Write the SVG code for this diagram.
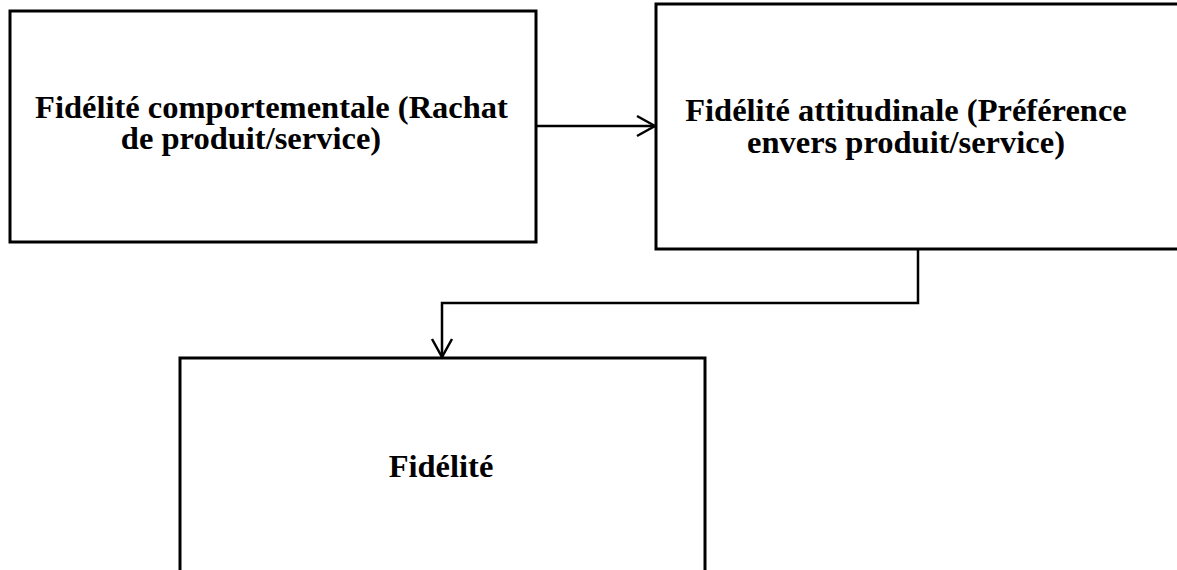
<svg xmlns="http://www.w3.org/2000/svg" width="1177" height="570" viewBox="0 0 1177 570">
<defs>
<style>
.box{fill:#fff;stroke:#000;stroke-width:3}
.t{font-family:"Liberation Serif","Times New Roman",serif;font-weight:bold;font-size:32.5px;fill:#000;text-anchor:middle}
.c{fill:none;stroke:#000;stroke-width:2.5}
</style>
<marker id="ah" markerWidth="22" markerHeight="24" refX="20" refY="12" orient="auto" markerUnits="userSpaceOnUse">
<path d="M2,2 L20,12 L2,22" fill="none" stroke="#000" stroke-width="2.5"/>
</marker>
</defs>
<rect width="1177" height="570" fill="#fff"/>
<g id="node-comportementale">
<rect class="box" x="10" y="11" width="526" height="231"/>
<text class="t" x="271.5" y="118">Fidélité comportementale (Rachat</text>
<text class="t" x="251" y="149">de produit/service)</text>
</g>
<g id="node-attitudinale">
<rect class="box" x="656" y="4" width="540" height="245"/>
<text class="t" x="906" y="121">Fidélité attitudinale (Préférence</text>
<text class="t" x="906" y="153">envers produit/service)</text>
</g>
<g id="node-fidelite">
<rect class="box" x="180" y="358" width="525" height="240"/>
<text class="t" x="441" y="477">Fidélité</text>
</g>
<g id="connectors">
<path class="c" d="M536,126 L655,126" marker-end="url(#ah)"/>
<path class="c" d="M918,249 L918,303 L442,303 L442,357" marker-end="url(#ah)"/>
</g>
</svg>
